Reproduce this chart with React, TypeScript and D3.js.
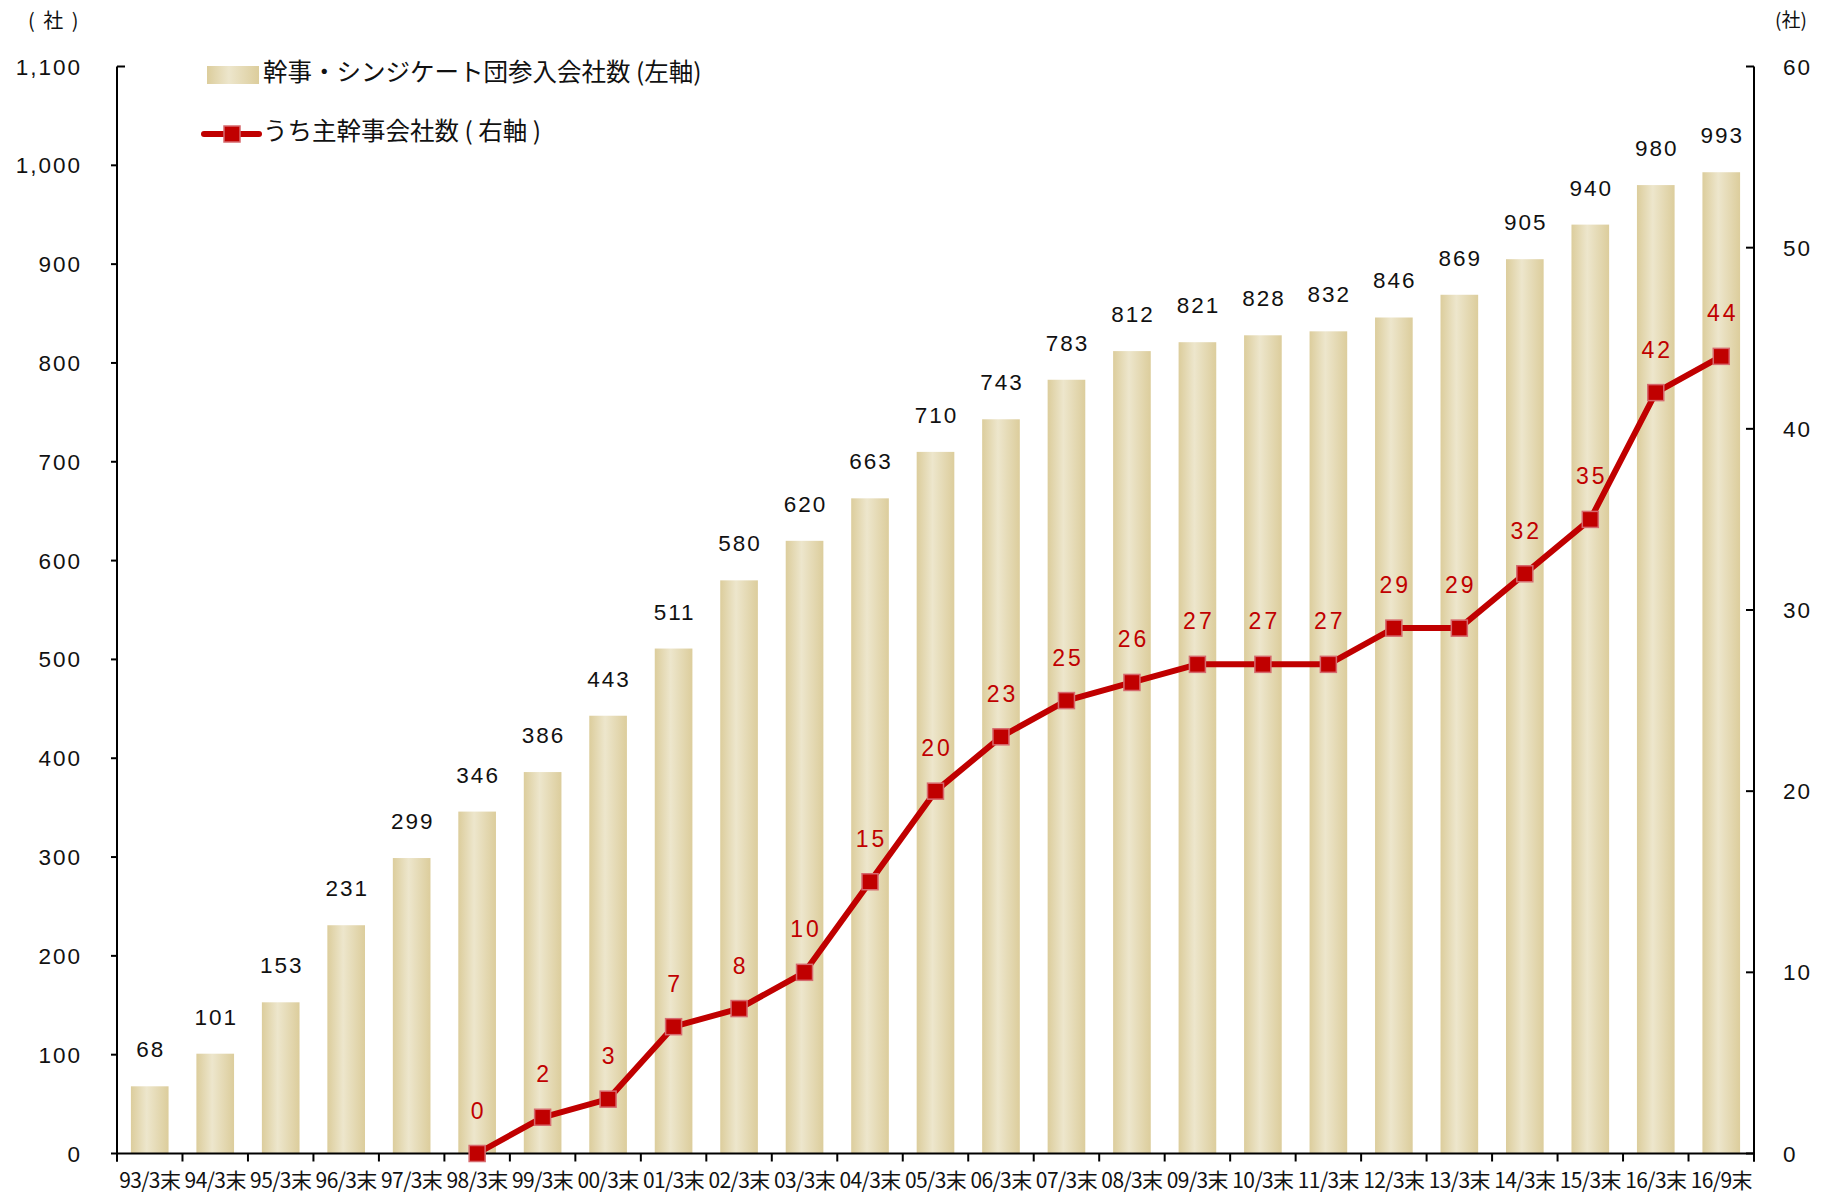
import React, { useEffect, useRef } from 'react';
import * as d3 from 'd3';

const categories = [
  '93/3末', '94/3末', '95/3末', '96/3末', '97/3末', '98/3末', '99/3末', '00/3末',
  '01/3末', '02/3末', '03/3末', '04/3末', '05/3末', '06/3末', '07/3末', '08/3末',
  '09/3末', '10/3末', '11/3末', '12/3末', '13/3末', '14/3末', '15/3末', '16/3末', '16/9末',
];
const syndicateCounts = [
  68, 101, 153, 231, 299, 346, 386, 443, 511, 580, 620, 663, 710, 743, 783, 812,
  821, 828, 832, 846, 869, 905, 940, 980, 993,
];
// starts at 98/3末
const leadCategories = categories.slice(5);
const leadCounts = [0, 2, 3, 7, 8, 10, 15, 20, 23, 25, 26, 27, 27, 27, 29, 29, 32, 35, 42, 44];
const leftTicks = [0, 100, 200, 300, 400, 500, 600, 700, 800, 900, 1000, 1100];
const rightTicks = [0, 10, 20, 30, 40, 50, 60];

const barLegend = '幹事・シンジケート団参入会社数 (左軸)';
const lineLegend = 'うち主幹事会社数 ( 右軸 )';

const W = 1827, H = 1194;
const LATIN = '"Liberation Sans", Arial, sans-serif';
const CJK = '"Noto Sans CJK JP", "Noto Sans", sans-serif';
const RED = '#c00000';

export default function App() {
  const ref = useRef<SVGSVGElement>(null);

  useEffect(() => {
    const svg = d3.select(ref.current);
    svg.selectAll('*').remove();

    const left = 117, right = 1754, top = 66.5, bottom = 1153.5;

    const x = d3.scaleBand<string>().domain(categories).range([left, right]).paddingInner(0.425).paddingOuter(0.2125);
    const yL = d3.scaleLinear().domain([0, 1100]).range([bottom, top]);
    const yR = d3.scaleLinear().domain([0, 60]).range([bottom, top]);

    const defs = svg.append('defs');
    const grad = defs.append('linearGradient').attr('id', 'barGrad').attr('x1', '0%').attr('x2', '100%').attr('y1', '0%').attr('y2', '0%');
    grad.append('stop').attr('offset', '0%').attr('stop-color', '#dccd9c');
    grad.append('stop').attr('offset', '42%').attr('stop-color', '#ede6cc');
    grad.append('stop').attr('offset', '100%').attr('stop-color', '#dccd9c');

    // bars
    svg.append('g').selectAll('rect')
      .data(syndicateCounts)
      .enter().append('rect')
      .attr('x', (d, i) => x(categories[i])!)
      .attr('width', x.bandwidth())
      .attr('y', (d) => yL(d))
      .attr('height', (d) => bottom - yL(d))
      .attr('fill', 'url(#barGrad)');

    // bar value labels
    svg.append('g').selectAll('text')
      .data(syndicateCounts)
      .enter().append('text')
      .attr('x', (d, i) => x(categories[i])! + x.bandwidth() / 2 + 1)
      .attr('y', (d) => yL(d) - 29)
      .attr('text-anchor', 'middle')
      .attr('font-family', LATIN)
      .attr('font-size', 22.5)
      .attr('letter-spacing', 2)
      .attr('fill', '#111')
      .text((d) => String(d));

    // axes lines
    const axes = svg.append('g').attr('stroke', '#000').attr('stroke-width', 2).attr('fill', 'none');
    axes.append('line').attr('x1', left).attr('x2', left).attr('y1', top).attr('y2', bottom + 8);
    axes.append('line').attr('x1', right).attr('x2', right).attr('y1', top).attr('y2', bottom + 8);
    axes.append('line').attr('x1', left).attr('x2', right).attr('y1', bottom).attr('y2', bottom);

    // x ticks at category boundaries
    const step = x.step();
    const bounds = d3.range(categories.length + 1).map((i) => left + i * step);
    axes.selectAll('line.xt').data(bounds).enter().append('line')
      .attr('class', 'xt')
      .attr('x1', (d) => d).attr('x2', (d) => d)
      .attr('y1', bottom).attr('y2', bottom + 8);

    // left ticks
    axes.selectAll('line.lt').data(leftTicks).enter().append('line')
      .attr('class', 'lt')
      .attr('x1', (d) => (d === 1100 ? left : left - 6))
      .attr('x2', (d) => (d === 1100 ? left + 8 : left))
      .attr('y1', (d) => yL(d)).attr('y2', (d) => yL(d));

    // right ticks
    axes.selectAll('line.rt').data(rightTicks).enter().append('line')
      .attr('class', 'rt')
      .attr('x1', right - 8).attr('x2', right)
      .attr('y1', (d) => yR(d)).attr('y2', (d) => yR(d));

    svg.append('g').selectAll('text')
      .data(leftTicks)
      .enter().append('text')
      .attr('x', 82)
      .attr('y', (d) => yL(d) + 8)
      .attr('text-anchor', 'end')
      .attr('font-family', LATIN)
      .attr('font-size', 22.5)
      .attr('letter-spacing', 2)
      .attr('fill', '#111')
      .text((d) => d3.format(',')(d));

    svg.append('g').selectAll('text')
      .data(rightTicks)
      .enter().append('text')
      .attr('x', 1783)
      .attr('y', (d) => yR(d) + 8)
      .attr('font-family', LATIN)
      .attr('font-size', 22.5)
      .attr('letter-spacing', 2)
      .attr('fill', '#111')
      .text((d) => String(d));

    // x labels
    svg.append('g').selectAll('text')
      .data(categories)
      .enter().append('text')
      .attr('x', (d) => x(d)! + x.bandwidth() / 2)
      .attr('y', 1188)
      .attr('text-anchor', 'middle')
      .attr('font-family', CJK)
      .attr('font-size', 21)
      .attr('letter-spacing', -0.6)
      .attr('fill', '#111')
      .text((d) => d);

    // unit labels
    svg.append('text').attr('x', 28).attr('y', 28).attr('font-family', CJK).attr('font-size', 20).attr('letter-spacing', 2).attr('fill', '#111').text('( 社 )');
    svg.append('text').attr('x', 1775).attr('y', 27).attr('font-family', CJK).attr('font-size', 19).attr('fill', '#111').text('(社)');

    // line series
    const cx = (c: string) => x(c)! + x.bandwidth() / 2;
    const pts: [number, number][] = leadCounts.map((v, i) => [cx(leadCategories[i]), yR(v)]);
    svg.append('path')
      .attr('d', d3.line()(pts)!)
      .attr('fill', 'none')
      .attr('stroke', RED)
      .attr('stroke-width', 6)
      .attr('stroke-linejoin', 'round');

    const ms = 16;
    svg.append('g').selectAll('rect')
      .data(pts)
      .enter().append('rect')
      .attr('x', (d) => d[0] - ms / 2)
      .attr('y', (d) => d[1] - ms / 2)
      .attr('width', ms).attr('height', ms)
      .attr('fill', RED)
      .attr('stroke', '#d66a6e')
      .attr('stroke-width', 1.5);

    svg.append('g').selectAll('text')
      .data(leadCounts)
      .enter().append('text')
      .attr('x', (d, i) => cx(leadCategories[i]) + 1.5)
      .attr('y', (d) => yR(d) - 35)
      .attr('text-anchor', 'middle')
      .attr('font-family', LATIN)
      .attr('font-size', 23)
      .attr('letter-spacing', 3)
      .attr('fill', RED)
      .text((d) => String(d));

    // legend
    const lg = svg.append('g');
    lg.append('rect').attr('x', 207).attr('y', 66).attr('width', 52).attr('height', 18).attr('fill', 'url(#barGrad)');
    lg.append('text').attr('x', 263).attr('y', 81).attr('font-family', CJK).attr('font-size', 24.5).attr('fill', '#111').text(barLegend);
    lg.append('line').attr('x1', 204).attr('x2', 259).attr('y1', 134).attr('y2', 134).attr('stroke', RED).attr('stroke-width', 6).attr('stroke-linecap', 'round');
    lg.append('rect').attr('x', 232 - 8).attr('y', 134 - 8).attr('width', 16).attr('height', 16).attr('fill', RED).attr('stroke', '#d66a6e').attr('stroke-width', 1.5);
    lg.append('text').attr('x', 263).attr('y', 140).attr('font-family', CJK).attr('font-size', 24.5).attr('fill', '#111').text(lineLegend);
  }, []);

  return (
    <svg ref={ref} width={W} height={H} style={{ position: 'absolute', left: 0, top: 0, background: '#fff' }} />
  );
}
